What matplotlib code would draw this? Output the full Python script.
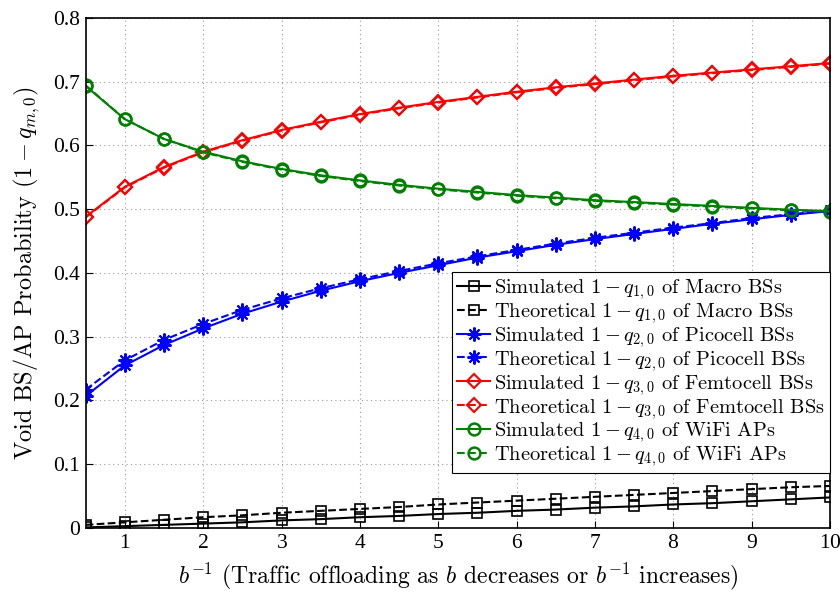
import matplotlib
matplotlib.use("Agg")
import matplotlib.pyplot as plt
import numpy as np

plt.rcParams['font.family'] = 'serif'
plt.rcParams['font.serif'] = ['cmr10', 'DejaVu Serif']
plt.rcParams['mathtext.fontset'] = 'cm'
plt.rcParams['axes.formatter.use_mathtext'] = True

x = np.arange(0.5, 10.01, 0.5)

macro_sim = [0.001, 0.003, 0.005, 0.007, 0.009, 0.012, 0.014, 0.017, 0.019, 0.022,
             0.024, 0.027, 0.029, 0.032, 0.034, 0.037, 0.039, 0.042, 0.045, 0.048]
macro_th = [0.005, 0.009, 0.013, 0.017, 0.020, 0.024, 0.027, 0.030, 0.033, 0.037,
            0.040, 0.043, 0.046, 0.049, 0.052, 0.055, 0.058, 0.061, 0.064, 0.066]
pico_sim = [0.207, 0.255, 0.287, 0.313, 0.336, 0.355, 0.372, 0.387, 0.400, 0.412,
            0.424, 0.434, 0.444, 0.453, 0.461, 0.469, 0.477, 0.484, 0.491, 0.497]
pico_th = [0.217, 0.263, 0.295, 0.320, 0.342, 0.360, 0.376, 0.390, 0.403, 0.415,
           0.426, 0.436, 0.446, 0.455, 0.463, 0.471, 0.478, 0.486, 0.492, 0.498]
femto_sim = [0.488, 0.535, 0.566, 0.590, 0.608, 0.624, 0.637, 0.649, 0.659, 0.668,
             0.676, 0.684, 0.691, 0.697, 0.703, 0.709, 0.714, 0.719, 0.724, 0.729]
femto_th = [0.487, 0.534, 0.565, 0.589, 0.607, 0.623, 0.636, 0.648, 0.658, 0.667,
            0.675, 0.683, 0.690, 0.696, 0.702, 0.708, 0.713, 0.718, 0.723, 0.728]
wifi_sim = [0.693, 0.641, 0.610, 0.590, 0.575, 0.563, 0.553, 0.545, 0.538, 0.532,
            0.527, 0.522, 0.518, 0.514, 0.511, 0.508, 0.505, 0.502, 0.499, 0.497]
wifi_th = [0.694, 0.641, 0.610, 0.589, 0.574, 0.562, 0.552, 0.544, 0.537, 0.531,
           0.526, 0.521, 0.517, 0.513, 0.510, 0.507, 0.504, 0.501, 0.498, 0.496]

fig, ax = plt.subplots(figsize=(8.4, 5.92), dpi=100)
fig.subplots_adjust(left=0.102, right=0.988, top=0.970, bottom=0.108)

star = (8, 2, 0)  # MATLAB-style asterisk
ax.plot(x, macro_sim, '-', color='black', marker='s', ms=7, mfc='none', mew=1.2,
        label=r'Simulated $1-q_{1,0}$ of Macro BSs')
ax.plot(x, macro_th, '--', color='black', marker='s', ms=7, mfc='none', mew=1.2,
        label=r'Theoretical $1-q_{1,0}$ of Macro BSs')
ax.plot(x, pico_sim, '-', color='blue', marker=star, ms=10, mew=1.5,
        label=r'Simulated $1-q_{2,0}$ of Picocell BSs')
ax.plot(x, pico_th, '--', color='blue', marker=star, ms=10, mew=1.5,
        label=r'Theoretical $1-q_{2,0}$ of Picocell BSs')
ax.plot(x, femto_sim, '-', color='red', marker='D', ms=7.5, mfc='none', mew=1.5,
        label=r'Simulated $1-q_{3,0}$ of Femtocell BSs')
ax.plot(x, femto_th, '--', color='red', marker='D', ms=7.5, mfc='none', mew=1.5,
        label=r'Theoretical $1-q_{3,0}$ of Femtocell BSs')
ax.plot(x, wifi_sim, '-', color='green', marker='o', ms=8.5, mfc='none', mew=1.8,
        label=r'Simulated $1-q_{4,0}$ of WiFi APs')
ax.plot(x, wifi_th, '--', color='green', marker='o', ms=8.5, mfc='none', mew=1.8,
        label=r'Theoretical $1-q_{4,0}$ of WiFi APs')

ax.set_xlim(0.5, 10)
ax.set_ylim(0, 0.8)
ax.set_xticks(range(1, 11))
yt = np.arange(0, 0.81, 0.1)
ax.set_yticks(yt)
ax.set_yticklabels(['0'] + ['%.1f' % v for v in yt[1:]])
ax.tick_params(direction='in', length=5, pad=4)
for lbl in ax.get_xticklabels() + ax.get_yticklabels():
    lbl.set_fontfamily('Liberation Serif')
    lbl.set_fontsize(15.5)
ax.grid(True, linestyle=(0, (1, 3)), color='#999999', linewidth=0.8)
for s in ax.spines.values():
    s.set_linewidth(1.2)

ax.set_xlabel(r'$b^{-1}$ (Traffic offloading as $b$ decreases or $b^{-1}$ increases)',
              fontsize=17, labelpad=6)
ax.set_ylabel(r'Void BS/AP Probability $(1-q_{m,0})$', fontsize=17.5, labelpad=8)

leg = ax.legend(loc='upper right', bbox_to_anchor=(1.0, 0.502), borderaxespad=0,
                fontsize=14.7, fancybox=False, framealpha=1, edgecolor='black',
                handlelength=1.6, handletextpad=0.2, labelspacing=0.0, borderpad=0.25)
leg.get_frame().set_linewidth(0.8)

fig.savefig('out.png')
